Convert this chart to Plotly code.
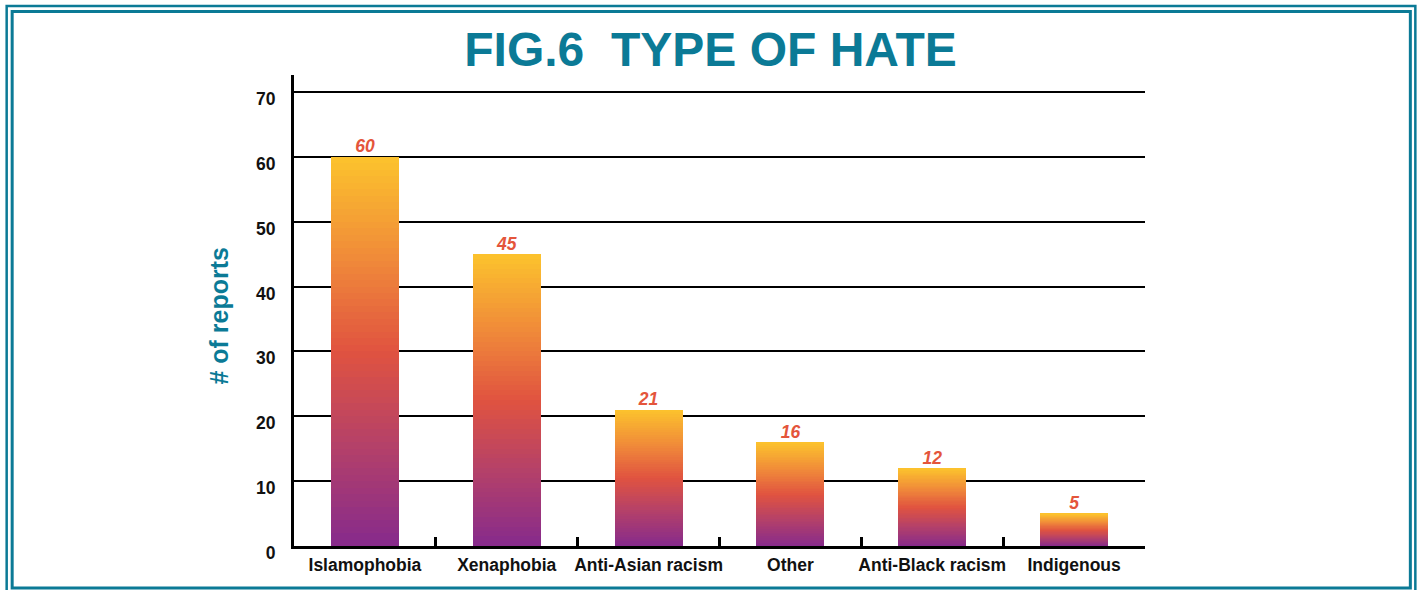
import plotly.graph_objects as go

categories = ["Islamophobia", "Xenaphobia", "Anti-Asian racism", "Other", "Anti-Black racism", "Indigenous"]
reports = [60, 45, 21, 16, 12, 5]
y_ticks = [0, 10, 20, 30, 40, 50, 60, 70]

TEAL = "#0b7a96"
W, H = 1421, 590
L, R, T, B = 293.5, 1145, 75, 546

# gradient stops, from bottom (0) to top (1)
stops = [(0.0, (0x86, 0x2a, 0x8c)), (0.25, (0xb3, 0x40, 0x6a)), (0.5, (0xe0, 0x53, 0x40)),
         (0.72, (0xef, 0x86, 0x3a)), (1.0, (0xfc, 0xc3, 0x2d))]

def grad(t):
    for (t0, c0), (t1, c1) in zip(stops[:-1], stops[1:]):
        if t0 <= t <= t1:
            f = (t - t0) / (t1 - t0)
            c = [round(a + (b - a) * f) for a, b in zip(c0, c1)]
            return "rgb(%d,%d,%d)" % tuple(c)
    return "rgb(%d,%d,%d)" % stops[-1][1]

N = 60
fig = go.Figure()
for i in range(N):
    t = (i + 0.5) / N
    fig.add_trace(go.Bar(
        x=categories, y=[v / N for v in reports],
        marker=dict(color=grad(t), line=dict(width=0)),
        width=0.48, showlegend=False, hoverinfo="skip"))

fig.add_trace(go.Scatter(
    x=categories, y=reports, mode="text", text=[str(v) for v in reports],
    textposition="top center",
    textfont=dict(family="Liberation Sans", size=17.5, color="#e4553b", style="italic", weight="bold"),
    showlegend=False, hoverinfo="skip", cliponaxis=False))

def px_x(p):
    return (p - L) / (R - L)

def px_y(p):
    return (B - p) / (B - T)

shapes = [
    dict(type="rect", xref="paper", yref="paper", x0=px_x(6), x1=px_x(1415.5), y0=px_y(6), y1=px_y(594),
         line=dict(color=TEAL, width=2.5), layer="below"),
    dict(type="rect", xref="paper", yref="paper", x0=px_x(11.5), x1=px_x(1410.5), y0=px_y(11.5), y1=px_y(588),
         line=dict(color=TEAL, width=3), layer="below"),
]

fig.update_layout(
    width=W, height=H,
    margin=dict(l=L, r=W - R, t=T, b=H - B, pad=0, autoexpand=False),
    paper_bgcolor="white", plot_bgcolor="white",
    barmode="stack", bargap=0.52,
    shapes=shapes,
    font=dict(family="Liberation Sans", color="#111111"),
    title=dict(text="<b>FIG.6  TYPE OF HATE</b>", x=0.5, xanchor="center", xref="container",
               y=1 - 49 / H, yanchor="middle", yref="container", automargin=False,
               font=dict(family="Liberation Sans", size=48, color=TEAL)),
    annotations=[dict(text="<b># of reports</b>", textangle=-90, xref="paper", yref="paper",
                      x=px_x(218), y=px_y(316), xanchor="center", yanchor="middle", showarrow=False,
                      font=dict(family="Liberation Sans", size=25, color=TEAL))],
    xaxis=dict(type="category", showline=True, linecolor="black", linewidth=3,
               tickson="boundaries", ticks="inside", ticklen=9, tickwidth=3, tickcolor="black",
               showgrid=False, ticklabelstandoff=1, tickangle=0, automargin=False,
               tickfont=dict(family="Liberation Sans", size=17.5, color="#111111", weight="bold")),
    yaxis=dict(range=[0, 72.6], tickvals=y_ticks, showline=True, linecolor="black", linewidth=3,
               showgrid=True, gridcolor="black", gridwidth=2, zeroline=False, automargin=False,
               ticks="", ticklabelstandoff=12, ticklabelshift=7,
               tickfont=dict(family="Liberation Sans", size=17.5, color="#111111", weight="bold")),
)

fig.write_html("out.html", config={"displayModeBar": False},
               post_script="document.body.style.margin='0';document.body.style.overflow='hidden';")
